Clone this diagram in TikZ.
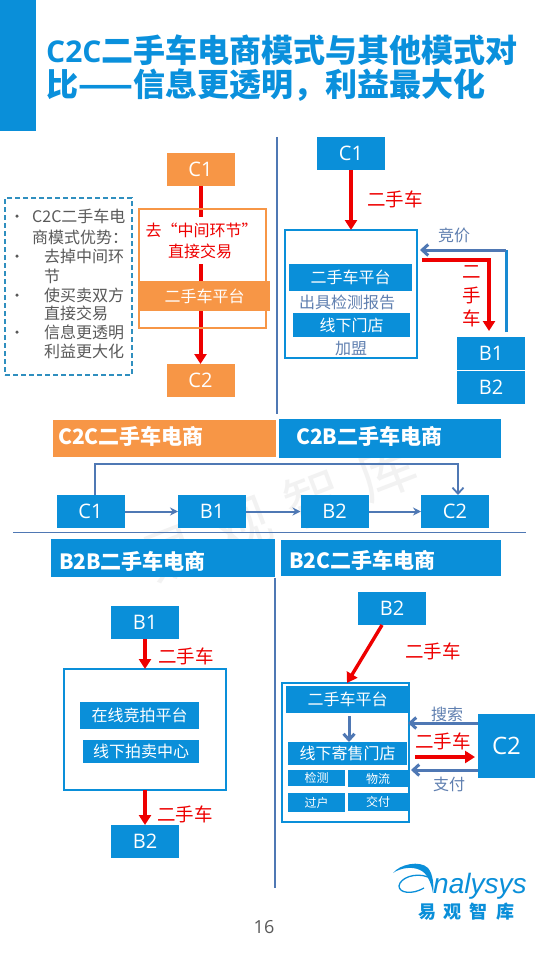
\documentclass[tikz,border=0pt]{standalone}
\usepackage{fontspec}
\setmainfont{Open Sans}
\newfontfamily\cjk{Noto Sans CJK SC}
\newfontfamily\logofont{Liberation Sans}
\usetikzlibrary{arrows.meta}
\definecolor{bluefill}{HTML}{0A8FD9}
\definecolor{orangefill}{HTML}{F79646}
\definecolor{titleblue}{HTML}{0A90DC}
\definecolor{steel}{HTML}{4F78B4}
\definecolor{redline}{HTML}{EE0000}
\definecolor{graytxt}{HTML}{595959}
\definecolor{steeltxt}{HTML}{5F7FB0}
\definecolor{dashblue}{HTML}{2F8FBF}
\tikzset{
  bx/.style={inner sep=0pt,outer sep=0pt,text=white,align=center},
  bluebox/.style={bx,fill=bluefill},
  orangebox/.style={bx,fill=orangefill},
  ent/.style={minimum width=68pt,minimum height=33pt,font=\fontsize{20}{22}\selectfont},
  plat/.style={font=\cjk\fontsize{16}{18}\selectfont},
  tiny/.style={font=\cjk\fontsize{12}{13}\selectfont},
  head/.style={bx,anchor=west,font=\cjk\bfseries\fontsize{21}{23}\selectfont},
  frame/.style={draw=#1,line width=1.6pt,fill=none,inner sep=0pt,outer sep=0pt},
  redarrow/.style={draw=redline,line width=3.4pt,-{Triangle[length=10pt,width=12pt]}},
  redlabel/.style={inner sep=0pt,text=redline,font=\cjk\fontsize{18.5}{20}\selectfont},
  steelarrow/.style={draw=steel,line width=3pt,-{Straight Barb[length=6pt,width=11pt]}},
  thinarrow/.style={draw=steel,line width=2pt,-{Stealth[length=8pt,width=8pt]}},
  steellabel/.style={inner sep=0pt,text=steeltxt,font=\cjk\fontsize{16}{18}\selectfont},
  divider/.style={draw=steel,line width=1.8pt},
  bul/.style={inner sep=0pt,anchor=west,text=graytxt,font=\cjk\fontsize{16}{18}\selectfont},
}
\begin{document}
\begin{tikzpicture}[x=1pt,y=-1pt]
\useasboundingbox (0,0) rectangle (540,960);
\fill[white] (0,0) rectangle (540,960);
% watermark
\node[rotate=21,text=black!5,font=\cjk\fontsize{58}{60}\selectfont,inner sep=0pt] (wm) at (278,512) {易\,\,观\,\,智\,\,库};
% title
\node[fill=bluefill,inner sep=0pt,minimum width=36pt,minimum height=131pt] (bar) at (18,65.5) {};
\node[inner sep=0pt,anchor=west,text=titleblue,font=\bfseries\fontsize{30}{32}\selectfont] (t1) at (46,50) {C2C{\cjk\bfseries\fontsize{32}{34}\selectfont 二手车电商模式与其他模式对}};
\node[inner sep=0pt,anchor=west,text=titleblue,font=\cjk\bfseries\fontsize{32}{34}\selectfont] (t2) at (46,85) {比——信息更透明，利益最大化};
% dividers
\coordinate (v1a) at (277,137); \coordinate (v1b) at (277,414);
\coordinate (v2a) at (275,578); \coordinate (v2b) at (275,888);
\coordinate (h1a) at (13,532.5); \coordinate (h1b) at (526,532.5);
\draw[divider] (v1a)--(v1b); \draw[divider] (v2a)--(v2b); \draw[divider] (h1a)--(h1b);

% C2C
\node[orangebox,ent] (c2c1) at (200.5,169.5) {C1};
\node[orangebox,ent] (c2c2) at (200.5,380.5) {C2};
\draw[redarrow,line width=4pt] (c2c1)--(c2c2);
\node[draw=orangefill,line width=1.6pt,minimum width=127pt,minimum height=119pt,inner sep=0pt] (c2cframe) at (202.5,268.5) {};
\node[inner sep=0pt,fill=white,minimum width=120pt,minimum height=47pt,text=redline,align=center,font=\cjk\fontsize{16}{21}\selectfont] (c2cgo) at (200,240.5) {\hspace{3pt}去“中间环节”\\直接交易};
\node[orangebox,plat,minimum width=131pt,minimum height=30pt] (c2cplat) at (204.5,296) {二手车平台};
% advantages
\node[draw=dashblue,line width=1.5pt,minimum width=127pt,minimum height=177pt,inner sep=0pt,dash pattern=on 5pt off 3pt] (adv) at (68.5,286.5) {};
\foreach \n/\y/\x/\t in {a/216/32/C2C二手车电,b/237/32/商模式优势：,c/256/44/去掉中间环,d/276/44/节,e/295/44/使买卖双方,f/313/44/直接交易,g/332/44/信息更透明,h/351/44/利益更大化}{
  \node[bul] (adv\n) at (\x,\y) {\t};
}
\foreach \n/\y in {a/216,c/256,e/295,g/332}{
  \node[circle,fill=graytxt,inner sep=0pt,minimum size=3.5pt] (dot\n) at (17,\y) {};
}

% C2B
\node[bluebox,ent] (c2b1) at (351,153.5) {C1};
\node[frame=bluefill,minimum width=132pt,minimum height=128pt] (c2bframe) at (351,294) {};
\draw[redarrow] (c2b1)--(c2bframe);
\node[redlabel] (c2bl1) at (395,199) {二手车};
\node[bluebox,plat,minimum width=123pt,minimum height=27pt] (c2bplat) at (350.5,277.5) {二手车平台};
\node[steellabel] (c2breport) at (347,302) {出具检测报告};
\node[bluebox,plat,minimum width=117pt,minimum height=24pt] (c2bshop) at (351.5,325) {线下门店};
\node[steellabel] (c2bjoin) at (351,349) {加盟};
\node[bluebox,ent,minimum height=33pt] (c2bb1) at (491,353.5) {B1};
\node[bluebox,ent,minimum height=33pt] (c2bb2) at (491,387.5) {B2};
\coordinate (bidstart) at (506,332);
\coordinate (bidcorner) at (506,250);
\coordinate (bidend) at (420,250);
\draw[draw=bluefill!80!steel,line width=3pt] (bidstart)--(bidcorner);
\draw[steelarrow] (bidcorner)--(bidend);
\node[steellabel] (c2bbid) at (454,235) {竞价};
\coordinate (carstart) at (422,260);
\coordinate (carcorner) at (489,260);
\coordinate (carend) at (489,331);
\draw[redarrow] (carstart)--(carcorner)--(carend);
\node[redlabel] (c2bv1) at (472,272) {二};
\node[redlabel] (c2bv2) at (472,295) {手};
\node[redlabel] (c2bv3) at (472,318) {车};

% headers
\node[fill=orangefill,minimum width=223pt,minimum height=37pt,inner sep=0pt] (h1) at (164.5,438.5) {};
\node[head] (h1t) at (58,436) {C2C二手车电商};
\node[fill=bluefill,minimum width=222pt,minimum height=39pt,inner sep=0pt] (h2) at (390,438.5) {};
\node[head] (h2t) at (296,436) {C2B二手车电商};
\node[fill=bluefill,minimum width=224pt,minimum height=38pt,inner sep=0pt] (h3) at (163,557.5) {};
\node[head] (h3t) at (59,561) {B2B二手车电商};
\node[fill=bluefill,minimum width=220pt,minimum height=36pt,inner sep=0pt] (h4) at (391,557.5) {};
\node[head] (h4t) at (289,560) {B2C二手车电商};

% chain
\node[bluebox,ent] (cc1) at (90.5,511.5) {C1};
\node[bluebox,ent] (cb1) at (212,511.5) {B1};
\node[bluebox,ent] (cb2) at (334.5,511.5) {B2};
\node[bluebox,ent] (cc2) at (455,511.5) {C2};
\draw[thinarrow] (cc1)--(cb1);
\draw[thinarrow] (cb1)--(cb2);
\draw[thinarrow] (cb2)--(cc2);
\coordinate (up1) at (95,464);
\coordinate (up2) at (458,464);
\draw[steel,line width=1.8pt,-{Straight Barb[length=6pt,width=11pt]}] (cc1.north -| up1)--(up1)--(up2)--(cc2.north -| up2);

% B2B
\node[bluebox,ent] (bb1) at (145,622.5) {B1};
\node[frame=bluefill,minimum width=162pt,minimum height=121pt] (bbframe) at (145,729.5) {};
\node[bluebox,ent] (bb2) at (145,841.5) {B2};
\draw[redarrow] (bb1)--(bbframe);
\draw[redarrow] (bbframe)--(bb2);
\node[redlabel] (bbl1) at (186,656) {二手车};
\node[redlabel] (bbl2) at (185,814) {二手车};
\node[bluebox,plat,minimum width=119pt,minimum height=27pt] (bbp1) at (139.5,715.5) {在线竞拍平台};
\node[bluebox,plat,minimum width=116pt,minimum height=23pt] (bbp2) at (141,751.5) {线下拍卖中心};

% B2C
\node[bluebox,ent] (bcb2) at (392,608.5) {B2};
\node[frame=bluefill,minimum width=127pt,minimum height=139pt] (bcframe) at (345.5,752.5) {};
\coordinate (bcin) at (347,683);
\draw[redarrow] (bcb2)--(bcin);
\node[redlabel] (bcl1) at (433,651) {二手车};
\node[bluebox,plat,minimum width=123pt,minimum height=27pt] (bcp) at (347.5,699.5) {二手车平台};
\node[bluebox,plat,minimum width=119pt,minimum height=23pt] (bcs) at (347.5,753.5) {线下寄售门店};
\draw[steelarrow] (bcp.south)++(1.5,3) coordinate (bcd1) -- (bcd1 |- bcs.north);
\node[bluebox,tiny,minimum width=57pt,minimum height=16pt] (bc1) at (316.5,778) {检测};
\node[bluebox,tiny,minimum width=60pt,minimum height=17pt] (bc2) at (378,778.5) {物流};
\node[bluebox,tiny,minimum width=57pt,minimum height=19pt] (bc3) at (316.5,802.5) {过户};
\node[bluebox,tiny,minimum width=60pt,minimum height=18pt] (bc4) at (378,802) {交付};
\node[bluebox,font=\fontsize{24}{26}\selectfont,minimum width=57pt,minimum height=64pt] (bcc2) at (506.5,746) {C2};
\coordinate (s1) at (478,723); \coordinate (s2) at (408,723);
\coordinate (p1) at (478,770); \coordinate (p2) at (411,770);
\coordinate (r1) at (415,757); \coordinate (r2) at (475,757);
\draw[steelarrow] (s1)--(s2);
\draw[steelarrow] (p1)--(p2);
\draw[redarrow] (r1)--(r2);
\node[steellabel] (bcsearch) at (447,714) {搜索};
\node[redlabel] (bcl2) at (443,741) {二手车};
\node[steellabel] (bcpay) at (449,784) {支付};

% page number and logo
\node[inner sep=0pt,text=graytxt,font=\fontsize{18}{20}\selectfont] (pg) at (264,927) {16};
\fill[bluefill] (393,873) .. controls (400,864) and (420,860) .. (428,868) .. controls (433,874) and (434,885) .. (433,893) .. controls (431,882) and (427,873) .. (420,870) .. controls (412,866) and (400,868) .. (393,873) -- cycle;
\draw[bluefill,line width=1.3pt] (428,877) .. controls (415,872) and (400,878) .. (399,886) .. controls (399,893) and (412,895) .. (424,888);
\node[inner sep=0pt,anchor=base west,text=bluefill,font=\logofont\itshape\fontsize{28}{30}\selectfont] (lg) at (433,893) {nalysys};
\node[inner sep=0pt,text=bluefill,font=\cjk\bfseries\fontsize{18}{20}\selectfont] (lgc) at (466,912) {易\hspace{8pt}观\hspace{8pt}智\hspace{8pt}库};
\end{tikzpicture}
\end{document}
